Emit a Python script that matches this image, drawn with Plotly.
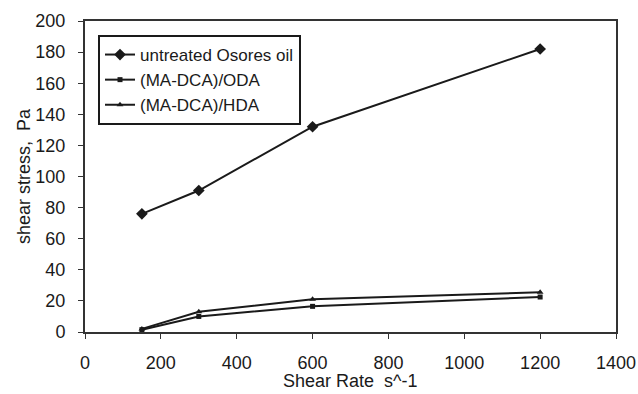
import plotly.graph_objects as go

shear_rate = [150, 300, 600, 1200]
untreated = [76, 91, 132, 182]
oda = [1.5, 10, 16.5, 22.5]
hda = [2, 13, 21, 25.5]

series_names = ["untreated Osores oil", "(MA-DCA)/ODA", "(MA-DCA)/HDA"]
x_title = "Shear Rate  s^-1"
y_title = "shear stress,  Pa"

fig = go.Figure()
fig.add_trace(go.Scatter(x=shear_rate, y=untreated, name=series_names[0], mode="lines+markers",
                         line=dict(color="#1a1a1a", width=2),
                         marker=dict(symbol="diamond", size=9, color="#1a1a1a")))
fig.add_trace(go.Scatter(x=shear_rate, y=oda, name=series_names[1], mode="lines+markers",
                         line=dict(color="#1a1a1a", width=2),
                         marker=dict(symbol="square", size=5, color="#1a1a1a")))
fig.add_trace(go.Scatter(x=shear_rate, y=hda, name=series_names[2], mode="lines+markers",
                         line=dict(color="#1a1a1a", width=2),
                         marker=dict(symbol="triangle-up", size=6, color="#1a1a1a")))

font = dict(family="Liberation Sans, Arial, sans-serif", size=18, color="#1a1a1a")

fig.update_layout(
    width=638, height=394,
    margin=dict(l=85, r=22, t=21, b=62),
    paper_bgcolor="white", plot_bgcolor="white",
    font=font,
    showlegend=True,
    legend=dict(x=0.0245, y=0.955, xanchor="left", yanchor="top",
                bordercolor="#1a1a1a", borderwidth=2, bgcolor="white",
                font=dict(family="Liberation Sans, Arial, sans-serif", size=17, color="#1a1a1a"),
                tracegroupgap=0, itemwidth=30),
    xaxis=dict(range=[0, 1400], dtick=200, tick0=0, ticks="outside", ticklen=5,
               tickcolor="#333", showline=True, linecolor="#333", linewidth=2, mirror=True,
               showgrid=False, zeroline=False, tickfont=font, automargin=False,
               ticklabelstandoff=8),
    yaxis=dict(range=[0, 200], dtick=20, tick0=0, ticks="outside", ticklen=5,
               tickcolor="#333", showline=True, linecolor="#333", linewidth=2, mirror=True,
               showgrid=False, zeroline=False, tickfont=font, automargin=False,
               ticklabelstandoff=9,
               title=dict(text=y_title, standoff=0, font=font)),
    annotations=[dict(text=x_title, xref="paper", yref="paper", x=0.5, y=0,
                      xanchor="center", yanchor="bottom", yshift=-61,
                      showarrow=False, font=font)],
)

fig.write_html("out.html")
